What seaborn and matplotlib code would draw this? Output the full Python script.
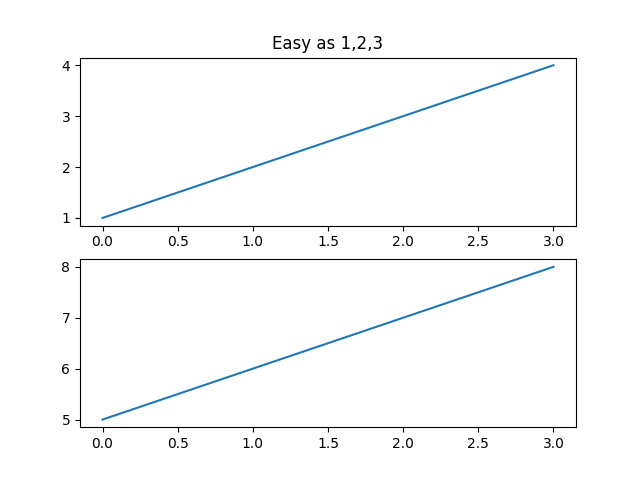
import matplotlib
matplotlib.use("Agg")
import matplotlib.pyplot as plt
import seaborn as sns

# datos de las dos series
x_vals = [0, 1, 2, 3]
top_vals = [1, 2, 3, 4]
bottom_vals = [5, 6, 7, 8]

plt.figure(figsize=(6.4, 4.8), dpi=100)

# primer grafico arriba
plt.subplot(2, 1, 1)
sns.lineplot(x=x_vals, y=top_vals)
plt.title("Easy as 1,2,3")

# segundo grafico abajo
plt.subplot(2, 1, 2)
sns.lineplot(x=x_vals, y=bottom_vals)

plt.savefig("out.png")
